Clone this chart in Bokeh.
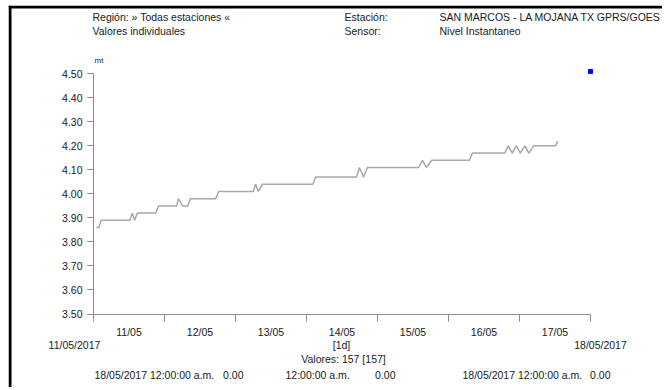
import pandas as pd
from bokeh.plotting import figure
from bokeh.layouts import column
from bokeh.models import Range1d, FixedTicker, Label, DatetimeTickFormatter, NumeralTickFormatter, ColumnDataSource, Span
from bokeh.embed import file_html
from bokeh.resources import INLINE

# ---------------- data ----------------
START = "2017-05-11 00:00"
DAYS = 7
# hours since 11/05/2017 00:00 of the line's vertices, and the level (mt) there
hours = [0.9, 1.8, 2.6,
         12.3, 13.1, 13.9, 14.8,
         21.0, 22.0,
         28.1, 28.7, 30.1, 31.8, 32.8,
         41.3, 42.3,
         54.0, 54.8, 55.7, 57.1,
         74.1, 75.1,
         88.9, 89.9, 91.3, 92.6,
         109.9, 111.2, 112.5, 114.3,
         127.1, 128.1,
         139.0, 140.2, 141.6, 142.9, 144.3, 145.8, 147.2, 148.8,
         156.2, 156.9]
levels = [3.86, 3.86, 3.89,
          3.89, 3.92, 3.89, 3.92,
          3.92, 3.95,
          3.95, 3.98, 3.95, 3.95, 3.98,
          3.98, 4.01,
          4.01, 4.04, 4.01, 4.04,
          4.04, 4.07,
          4.07, 4.11, 4.07, 4.11,
          4.11, 4.14, 4.11, 4.14,
          4.14, 4.17,
          4.17, 4.20, 4.17, 4.20, 4.17, 4.20, 4.17, 4.20,
          4.20, 4.22]
marker_hours = [168]
marker_levels = [4.51]
y_ticks = [3.50, 3.60, 3.70, 3.80, 3.90, 4.00, 4.10, 4.20, 4.30, 4.40, 4.50]
Y_MIN, Y_MAX = 3.50, 4.50

FONT = "Liberation Sans"
FS = "10.5px"
TXT = "#1a1a1a"
AX = "#8c8c8c"

# ---------------- layout (page pixels) ----------------
CX, CY = 8, 5             # canvas origin on the page
W, H = 654, 382           # canvas size
AX_X0, AX_X1 = 93, 590    # x axis from 11/05 to 18/05
AX_YB, PX_PER_UNIT = 313.5, 240.2
PX_PER_DAY = (AX_X1 - AX_X0) / DAYS

t0 = pd.Timestamp(START)
epoch = pd.Timestamp("1970-01-01")
DAY_MS = 86400000.0
def ms(ts):
    return (ts - epoch) / pd.Timedelta(milliseconds=1)
T0 = ms(t0)

def X(px):
    return T0 + (px - AX_X0) / PX_PER_DAY * DAY_MS
def Y(py):
    return Y_MIN + (AX_YB - py) / PX_PER_UNIT

times = [t0 + pd.Timedelta(hours=h) for h in hours]
mtimes = [t0 + pd.Timedelta(hours=h) for h in marker_hours]
t_end = t0 + pd.Timedelta(days=DAYS)

p = figure(width=W, height=H, output_backend="svg", toolbar_location=None,
           x_axis_type="datetime",
           x_range=Range1d(X(CX), X(CX + W)),
           y_range=Range1d(Y(CY + H), Y(CY)),
           min_border=0, min_border_left=0, min_border_right=0,
           min_border_top=0, min_border_bottom=0)
p.margin = (CY, 0, 0, CX)
p.outline_line_color = None
p.grid.visible = False
p.background_fill_color = "white"
p.border_fill_color = "white"

# report frame (black left and top border)
p.add_layout(Span(location=X(9.5), dimension="height", line_color="black", line_width=3))
p.add_layout(Span(location=Y(6.5), dimension="width", line_color="black", line_width=3))

src = ColumnDataSource(dict(t=times, v=levels))
p.line("t", "v", source=src, line_color="#a8a8a8", line_width=1.5)
p.scatter(mtimes, marker_levels, marker="square", size=4, color="#0000ff", line_color="#0000ff")

# x axis: labels at noon, tick marks at midnight
noon = [ms(t0 + pd.Timedelta(hours=12 + 24 * d)) for d in range(DAYS)]
midn = [ms(t0 + pd.Timedelta(days=d)) for d in range(DAYS + 1)]
xa = p.xaxis[0]
xa.fixed_location = Y_MIN
xa.ticker = FixedTicker(ticks=noon, minor_ticks=midn)
xa.formatter = DatetimeTickFormatter(days="%d/%m", hours="%d/%m", months="%d/%m", hourmin="%d/%m")
xa.bounds = (t0, t_end)
xa.major_tick_out = 0
xa.major_tick_in = 0
xa.minor_tick_out = 7
xa.minor_tick_in = 0
xa.axis_line_color = AX
xa.minor_tick_line_color = AX
xa.major_label_standoff = 5
xa.major_label_text_font = FONT
xa.major_label_text_font_size = FS
xa.major_label_text_color = TXT

ya = p.yaxis[0]
ya.fixed_location = T0
ya.ticker = FixedTicker(ticks=y_ticks)
ya.formatter = NumeralTickFormatter(format="0.00")
ya.bounds = (Y_MIN, Y_MAX)
ya.major_tick_out = 6
ya.major_tick_in = 0
ya.minor_tick_line_color = None
ya.axis_line_color = AX
ya.major_tick_line_color = AX
ya.major_label_standoff = 5
ya.major_label_text_font = FONT
ya.major_label_text_font_size = FS
ya.major_label_text_color = TXT

texts = [
    ("Región: » Todas estaciones «", 92, 16, "left", FS),
    ("Valores individuales", 92, 30, "left", FS),
    ("Estación:", 344, 16, "left", FS),
    ("Sensor:", 344, 30, "left", FS),
    ("SAN MARCOS - LA MOJANA TX GPRS/GOES", 439, 16, "left", FS),
    ("Nivel Instantaneo", 439, 30, "left", FS),
    ("mt", 94, 60, "left", "8px"),
    ("11/05/2017", 74, 344, "center", FS),
    ("[1d]", 341, 344, "center", FS),
    ("18/05/2017", 600, 344, "center", FS),
    ("Valores: 157 [157]", 343, 358, "center", FS),
    ("18/05/2017 12:00:00 a.m.", 94, 374, "left", FS),
    ("0.00", 243, 374, "right", FS),
    ("12:00:00 a.m.", 285, 374, "left", FS),
    ("0.00", 395, 374, "right", FS),
    ("18/05/2017 12:00:00 a.m.", 462, 374, "left", FS),
    ("0.00", 610, 374, "right", FS),
]
for t, px, py, al, fs in texts:
    p.add_layout(Label(x=X(px), y=Y(py), text=t, text_align=al, text_baseline="middle",
                       text_font=FONT, text_font_size=fs, text_color=TXT))

page = column(p, width=666, height=390, styles={"background-color": "white"})
open("out.html", "w").write(file_html(page, INLINE))
